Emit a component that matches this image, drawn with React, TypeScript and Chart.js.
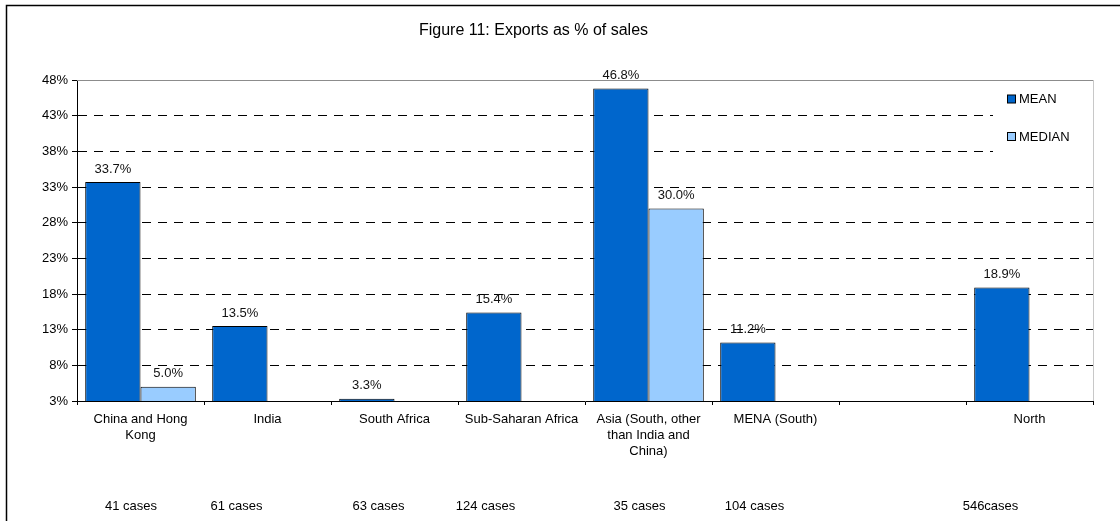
import React, { useEffect, useRef } from 'react';
import { Chart, registerables } from 'chart.js';

Chart.register(...registerables);

// ---------- data ----------
const TITLE = 'Figure 11: Exports as % of sales';
const categories: (string | string[])[] = [
  ['China and Hong', 'Kong'],
  'India',
  'South Africa',
  'Sub-Saharan Africa',
  ['Asia (South, other', 'than India and', 'China)'],
  'MENA (South)',
  '',
  'North',
];
const meanValues: (number | null)[] = [33.7, 13.5, 3.3, 15.4, 46.8, 11.2, null, 18.9];
const medianValues: (number | null)[] = [5.0, null, null, null, 30.0, null, null, null];
const caseLabels = ['41 cases', '61 cases', '63 cases', '124 cases', '35 cases', '104 cases', '', '546cases'];
const seriesNames = ['MEAN', 'MEDIAN'];
const yMin = 3;
const yMax = 48;
const yStep = 5;

// ---------- style / layout ----------
const FONT = '"Liberation Sans", Arial, Helvetica, sans-serif';
const MEAN_COLOR = '#0066CC';
const MEDIAN_COLOR = '#99CCFF';
const CASE_OFFSETS = [-9.5, -31, -16, -36, -9, -21, 0, -39];
const W = 1120;
const H = 521;

const decorPlugin = {
  id: 'decor',
  beforeDraw(chart: any) {
    const { ctx } = chart;
    ctx.save();
    ctx.fillStyle = '#fff';
    ctx.fillRect(0, 0, chart.width, chart.height);
    ctx.restore();
  },
  afterDraw(chart: any) {
    const { ctx, chartArea: a, scales } = chart;
    ctx.save();

    // outer frame (top + left)
    ctx.strokeStyle = '#000';
    ctx.lineWidth = 1.5;
    ctx.beginPath();
    ctx.moveTo(6.5, chart.height);
    ctx.lineTo(6.5, 5.5);
    ctx.lineTo(chart.width, 5.5);
    ctx.stroke();

    // title
    ctx.fillStyle = '#000';
    ctx.font = `16px ${FONT}`;
    ctx.textAlign = 'center';
    ctx.textBaseline = 'middle';
    ctx.fillText(TITLE, 533.5, 30.5);

    // plot area top (solid gray) and right (light gray)
    ctx.lineWidth = 1;
    ctx.strokeStyle = '#8c8c8c';
    ctx.beginPath();
    ctx.moveTo(a.left, a.top + 0.5);
    ctx.lineTo(a.right, a.top + 0.5);
    ctx.stroke();
    ctx.strokeStyle = '#c8c8c8';
    ctx.beginPath();
    ctx.moveTo(a.right + 0.5, a.top);
    ctx.lineTo(a.right + 0.5, a.bottom);
    ctx.stroke();

    // data labels
    ctx.font = `13px ${FONT}`;
    ctx.fillStyle = '#111';
    chart.data.datasets.forEach((ds: any, di: number) => {
      const meta = chart.getDatasetMeta(di);
      meta.data.forEach((el: any, i: number) => {
        const v = ds.data[i];
        if (v === null || v === undefined) return;
        ctx.fillText(`${v.toFixed(1)}%`, el.x, el.y - 13);
      });
    });

    // legend box
    const lx = a.right - 100;
    const ly = a.top + 1;
    ctx.fillStyle = '#fff';
    ctx.fillRect(lx, ly, 100, 72);
    const items = [
      { name: seriesNames[0], color: MEAN_COLOR, y: a.top + 19 },
      { name: seriesNames[1], color: MEDIAN_COLOR, y: a.top + 56.5 },
    ];
    ctx.textAlign = 'left';
    ctx.font = `13px ${FONT}`;
    items.forEach((it) => {
      ctx.fillStyle = it.color;
      ctx.fillRect(a.right - 85.5, it.y - 4, 8, 8);
      ctx.strokeStyle = '#000';
      ctx.lineWidth = 1;
      ctx.strokeRect(a.right - 85.5, it.y - 4, 8, 8);
      ctx.fillStyle = '#000';
      ctx.fillText(it.name, a.right - 74, it.y + 0.5);
    });

    // cases row
    const xs = scales.x;
    ctx.textAlign = 'center';
    ctx.fillStyle = '#000';
    caseLabels.forEach((t, i) => {
      if (!t) return;
      ctx.fillText(t, xs.getPixelForValue(i) + CASE_OFFSETS[i], 506.5);
    });

    ctx.restore();
  },
};

export default function App() {
  const ref = useRef<HTMLCanvasElement | null>(null);

  useEffect(() => {
    document.body.style.margin = '0';
    const canvas = ref.current;
    if (!canvas) return;
    Chart.defaults.font.family = FONT;
    const chart = new Chart(canvas, {
      type: 'bar',
      data: {
        labels: categories as any,
        datasets: [
          {
            label: seriesNames[0],
            data: meanValues,
            backgroundColor: MEAN_COLOR,
            borderColor: '#000',
            borderWidth: 1,
            borderSkipped: false,
            categoryPercentage: 0.871,
            barPercentage: 1,
          },
          {
            label: seriesNames[1],
            data: medianValues,
            backgroundColor: MEDIAN_COLOR,
            borderColor: '#000',
            borderWidth: 1,
            borderSkipped: false,
            categoryPercentage: 0.871,
            barPercentage: 1,
          },
        ] as any,
      },
      options: {
        responsive: false,
        animation: false,
        layout: { padding: { top: 80, right: 27, left: 0, bottom: 0 } },
        plugins: {
          legend: { display: false },
          title: { display: false },
          tooltip: { enabled: false },
        },
        scales: {
          x: {
            offset: true,
            grid: {
              display: true,
              offset: true,
              drawOnChartArea: false,
              drawTicks: true,
              tickLength: 4,
              color: '#000',
            },
            border: { display: true, color: '#000', width: 1 },
            ticks: {
              color: '#000',
              font: { size: 13, family: FONT },
              padding: 7,
              maxRotation: 0,
              autoSkip: false,
            },
            afterFit: (s: any) => {
              s.height = H - 401;
            },
          },
          y: {
            min: yMin,
            max: yMax,
            ticks: {
              stepSize: yStep,
              color: '#000',
              font: { size: 13, family: FONT },
              padding: 4,
              callback: (v: any) => `${v}%`,
            },
            grid: {
              color: (c: any) =>
                c.tick && (c.tick.value === yMax || c.tick.value === yMin) ? 'rgba(0,0,0,0)' : '#000',
              tickColor: '#000',
              tickLength: 5,
              lineWidth: 1,
            },
            border: { display: true, color: '#000', width: 1, dash: [9, 7] },
            afterFit: (s: any) => {
              s.width = 77;
            },
          },
        },
      },
      plugins: [decorPlugin],
    } as any);
    return () => chart.destroy();
  }, []);

  return (
    <div style={{ width: W, height: H, position: 'relative', overflow: 'hidden' }}>
      <canvas ref={ref} width={W} height={H} style={{ display: 'block' }} />
    </div>
  );
}
